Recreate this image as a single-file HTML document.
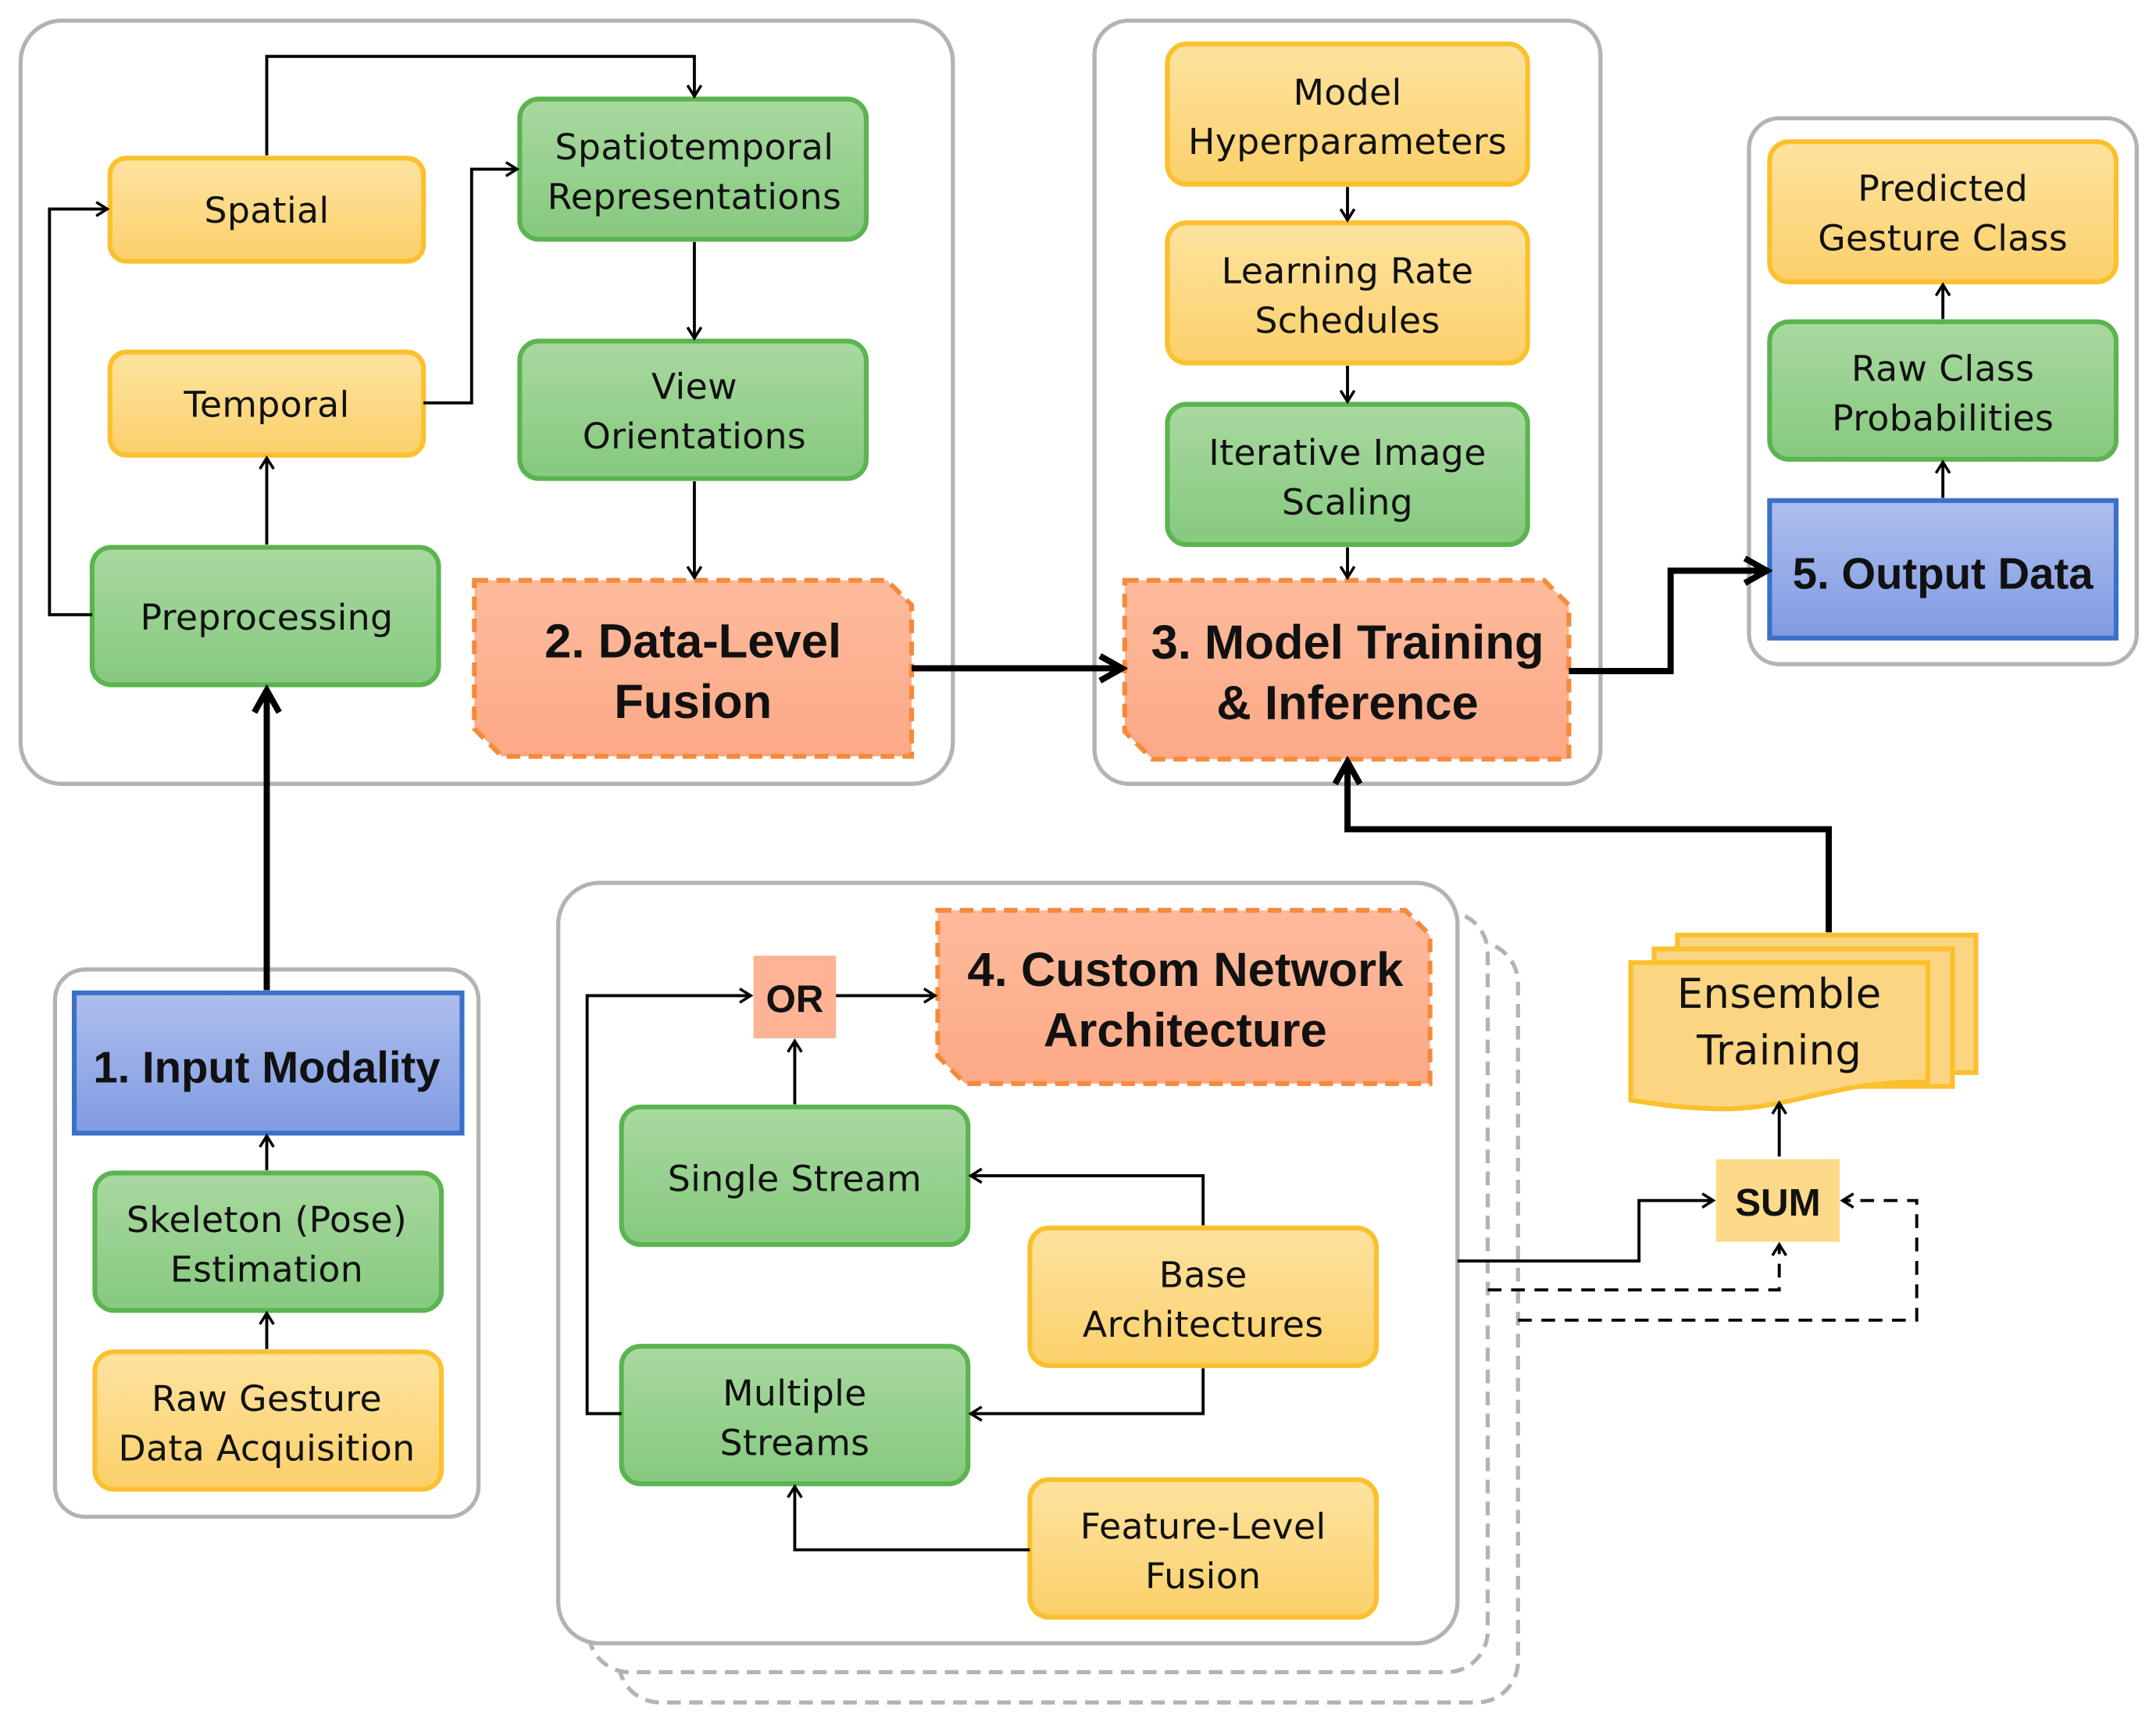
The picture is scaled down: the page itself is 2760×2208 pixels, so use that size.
<!DOCTYPE html>
<html><head><meta charset="utf-8"><style>
html,body{margin:0;padding:0;background:#fff}
svg{display:block}
text{font-family:"DejaVu Sans","Liberation Sans",sans-serif;fill:#111;text-anchor:middle}
.s{font-size:26px;letter-spacing:0.2px}
.b text{font-family:"Liberation Sans",sans-serif;font-size:35px;font-weight:bold}
</style></head><body>
<svg width="2760" height="2208" viewBox="0 0 1568 1254.4" preserveAspectRatio="none" xmlns="http://www.w3.org/2000/svg">
<defs>
<linearGradient id="gy" x1="0" y1="0" x2="0" y2="1"><stop offset="0" stop-color="#fde3a0"/><stop offset="1" stop-color="#fcd06a"/></linearGradient>
<linearGradient id="gg" x1="0" y1="0" x2="0" y2="1"><stop offset="0" stop-color="#a9d9a0"/><stop offset="1" stop-color="#86c97f"/></linearGradient>
<linearGradient id="gb" x1="0" y1="0" x2="0" y2="1"><stop offset="0" stop-color="#aebfee"/><stop offset="1" stop-color="#7f9be2"/></linearGradient>
<linearGradient id="go" x1="0" y1="0" x2="0" y2="1"><stop offset="0" stop-color="#fdbb9c"/><stop offset="1" stop-color="#fca986"/></linearGradient>
<marker id="a" markerWidth="12" markerHeight="12" refX="10" refY="6" orient="auto" markerUnits="userSpaceOnUse"><path d="M2,1 L10,6 L2,11" fill="none" stroke="#000" stroke-width="2"/></marker>
<marker id="A" markerWidth="24" markerHeight="24" refX="20" refY="12" orient="auto" markerUnits="userSpaceOnUse"><path d="M4,3 L20,12 L4,21" fill="none" stroke="#000" stroke-width="4.5"/></marker>
</defs>
<g fill="#fff" stroke="#b3b3b3" stroke-width="3">
<rect x="15" y="15" width="678" height="555" rx="30"/>
<rect x="796" y="15" width="368" height="555" rx="25"/>
<rect x="1272" y="86" width="282" height="397" rx="22"/>
<rect x="40" y="705" width="308" height="398" rx="22"/>
<rect x="450" y="685" width="654" height="553" rx="30" stroke-dasharray="10,6"/>
<rect x="428" y="663" width="654" height="553" rx="30" stroke-dasharray="10,6"/>
<rect x="406" y="642" width="654" height="553" rx="30"/>
</g>
<g stroke-width="3.5">
<g fill="url(#gy)" stroke="#fbc02d">
<rect x="80" y="115" width="228" height="75" rx="12"/>
<rect x="80" y="256" width="228" height="75" rx="12"/>
<rect x="849" y="32" width="262" height="102" rx="14"/>
<rect x="849" y="162" width="262" height="102" rx="14"/>
<rect x="1287" y="103" width="252" height="102" rx="14"/>
<rect x="69" y="983" width="252" height="100" rx="14"/>
<rect x="749" y="893" width="252" height="100" rx="14"/>
<rect x="749" y="1076" width="252" height="100" rx="14"/>
</g>
<g fill="url(#gg)" stroke="#5bb450">
<rect x="67" y="398" width="252" height="100" rx="14"/>
<rect x="378" y="72" width="252" height="102" rx="14"/>
<rect x="378" y="248" width="252" height="100" rx="14"/>
<rect x="849" y="294" width="262" height="102" rx="14"/>
<rect x="1287" y="234" width="252" height="100" rx="14"/>
<rect x="69" y="853" width="252" height="100" rx="14"/>
<rect x="452" y="805" width="252" height="100" rx="14"/>
<rect x="452" y="979" width="252" height="100" rx="14"/>
</g>
<g fill="url(#gb)" stroke="#3a70c8">
<rect x="1287" y="364" width="252" height="100"/>
<rect x="54" y="722" width="282" height="102"/>
</g>
<g fill="url(#go)" stroke="#f68a3c" stroke-dasharray="10,6">
<path d="M345,422 H645 L663,440 V550 H365 L345,530 Z"/>
<path d="M818,422 H1123 L1141,440 V552 H838 L818,532 Z"/>
<path d="M682,662 H1022 L1040,680 V788 H702 L682,768 Z"/>
</g>
</g>
<rect x="548" y="695" width="60" height="60" fill="#fdb394"/>
<rect x="1248" y="843" width="90" height="60" fill="#fdd98a"/>
<g fill="#fcd582" stroke="#fbc02d" stroke-width="3.5">
<rect x="1220" y="680" width="217" height="100"/>
<rect x="1203" y="690" width="217" height="100"/>
<path d="M1186,700 H1402 V787 C1330,785 1300,810 1240,806 C1215,805 1200,802 1186,800 Z"/>
</g>
<g fill="none" stroke="#000" stroke-width="2.2">
<path d="M194,113 V41 H505 V70" marker-end="url(#a)"/>
<path d="M67,447 H36 V152 H78" marker-end="url(#a)"/>
<path d="M194,396 V333" marker-end="url(#a)"/>
<path d="M308,293 H343 V123 H376" marker-end="url(#a)"/>
<path d="M505,176 V246" marker-end="url(#a)"/>
<path d="M505,350 V420" marker-end="url(#a)"/>
<path d="M980,136 V160" marker-end="url(#a)"/>
<path d="M980,266 V292" marker-end="url(#a)"/>
<path d="M980,398 V420" marker-end="url(#a)"/>
<path d="M1413,232 V207" marker-end="url(#a)"/>
<path d="M1413,362 V336" marker-end="url(#a)"/>
<path d="M194,851 V826" marker-end="url(#a)"/>
<path d="M194,981 V955" marker-end="url(#a)"/>
<path d="M578,803 V757" marker-end="url(#a)"/>
<path d="M608,724 H680" marker-end="url(#a)"/>
<path d="M452,1028 H427 V724 H546" marker-end="url(#a)"/>
<path d="M875,891 V855 H706" marker-end="url(#a)"/>
<path d="M875,995 V1028 H706" marker-end="url(#a)"/>
<path d="M749,1127 H578 V1081" marker-end="url(#a)"/>
<path d="M1060,917 H1192 V873 H1246" marker-end="url(#a)"/>
<path d="M1294,841 V802" marker-end="url(#a)"/>
<path d="M1082,938 H1294 V905" stroke-dasharray="10,7" marker-end="url(#a)"/>
<path d="M1104,960 H1394 V873 H1340" stroke-dasharray="10,7" marker-end="url(#a)"/>
</g>
<g fill="none" stroke="#000" stroke-width="4.5">
<path d="M194,720 V502" marker-end="url(#A)"/>
<path d="M663,486 H816" marker-end="url(#A)"/>
<path d="M1141,488 H1215 V415 H1285" marker-end="url(#A)"/>
<path d="M1330,678 V603 H980 V554" marker-end="url(#A)"/>
</g>
<g class="s">
<text x="194" y="162">Spatial</text>
<text x="194" y="303">Temporal</text>
<text x="194" y="458">Preprocessing</text>
<text x="505" y="116">Spatiotemporal</text>
<text x="505" y="152">Representations</text>
<text x="505" y="290">View</text>
<text x="505" y="326">Orientations</text>
<text x="980" y="76">Model</text>
<text x="980" y="112">Hyperparameters</text>
<text x="980" y="206">Learning Rate</text>
<text x="980" y="242">Schedules</text>
<text x="980" y="338">Iterative Image</text>
<text x="980" y="374">Scaling</text>
<text x="1413" y="146">Predicted</text>
<text x="1413" y="182">Gesture Class</text>
<text x="1413" y="277">Raw Class</text>
<text x="1413" y="313">Probabilities</text>
<text x="194" y="896">Skeleton (Pose)</text>
<text x="194" y="932">Estimation</text>
<text x="194" y="1026">Raw Gesture</text>
<text x="194" y="1062">Data Acquisition</text>
<text x="578" y="866">Single Stream</text>
<text x="578" y="1022">Multiple</text>
<text x="578" y="1058">Streams</text>
<text x="875" y="936">Base</text>
<text x="875" y="972">Architectures</text>
<text x="875" y="1119">Feature-Level</text>
<text x="875" y="1155">Fusion</text>
<text x="1294" y="733" style="font-size:30px">Ensemble</text>
<text x="1294" y="774" style="font-size:30px">Training</text>
</g>
<g class="b">
<text x="504" y="478">2. Data-Level</text>
<text x="504" y="522">Fusion</text>
<text x="980" y="479">3. Model Training</text>
<text x="980" y="523">&amp; Inference</text>
<text x="862" y="717">4. Custom Network</text>
<text x="862" y="761">Architecture</text>
<text x="1413" y="428" style="font-size:32px">5. Output Data</text>
<text x="194" y="787" style="font-size:32px">1. Input Modality</text>
<text x="578" y="736" style="font-size:28px">OR</text>
<text x="1293" y="884" style="font-size:28px">SUM</text>
</g>
</svg>
</body></html>
